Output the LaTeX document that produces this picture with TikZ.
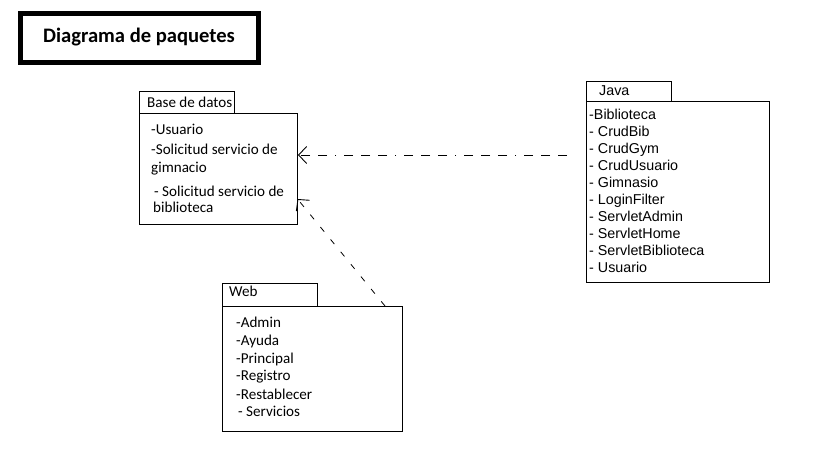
\documentclass[tikz,border=0pt]{standalone}
\usepackage{fontspec}
\newfontfamily\calfnt{Carlito}
\newfontfamily\arifnt{Liberation Sans}
\usetikzlibrary{arrows.meta,calc}
\begin{document}
\begin{tikzpicture}[x=1bp,y=-1bp,
  box/.style={draw,line width=1bp,inner sep=0pt,anchor=north west},
  calt/.style={inner sep=0pt,anchor=base west,font=\calfnt\fontsize{15.1bp}{17bp}\selectfont},
  arit/.style={inner sep=0pt,anchor=base west,font=\arifnt\fontsize{14.3bp}{17bp}\selectfont},
  dep/.style={line width=0.8bp,-{Straight Barb[length=8bp,width=17bp,line width=0.9bp]}},
  ]
\useasboundingbox (0,0) rectangle (832,454);
% title
\node[box,line width=5bp,minimum width=238bp,minimum height=49bp] (title) at (17.5,11.5) {};
\node[inner sep=0pt,anchor=base west,font=\calfnt\bfseries\fontsize{20.6bp}{24bp}\selectfont] (titletext) at (43,43) {Diagrama de paquetes};
% Base de datos
\node[box,minimum width=95bp,minimum height=22bp] (basetab) at (139,91) {};
\node[box,minimum width=158bp,minimum height=111bp] (base) at (139,113) {};
\node[calt] (basel) at (147,108) {Base de datos};
\node[calt] (b1) at (151,135) {-Usuario};
\node[calt] (b2) at (151,155) {-Solicitud servicio de};
\node[calt] (b3) at (151,173) {gimnacio};
\node[calt] (b4) at (154,197) {- Solicitud servicio de};
\node[calt] (b5) at (153,213) {biblioteca};
% Java
\node[box,minimum width=85bp,minimum height=20bp] (javatab) at (586,81) {};
\node[box,minimum width=183bp,minimum height=181bp] (java) at (586,101) {};
\node[arit] (javal) at (599,96) {Java};
\node[arit] (j1) at (589,120) {-Biblioteca};
\node[arit] (j2) at (589,137) {- CrudBib};
\node[arit] (j3) at (589,154) {- CrudGym};
\node[arit] (j4) at (589,171) {- CrudUsuario};
\node[arit] (j5) at (589,188) {- Gimnasio};
\node[arit] (j6) at (589,205) {- LoginFilter};
\node[arit] (j7) at (589,222) {- ServletAdmin};
\node[arit] (j8) at (589,239) {- ServletHome};
\node[arit] (j9) at (589,256) {- ServletBiblioteca};
\node[arit] (j10) at (589,273) {- Usuario};
% Web
\node[box,minimum width=95bp,minimum height=23bp] (webtab) at (222,283) {};
\node[box,minimum width=180bp,minimum height=125bp] (web) at (222,306) {};
\node[calt] (webl) at (229,297) {Web};
\node[calt] (w1) at (236,328) {-Admin};
\node[calt] (w2) at (236,346) {-Ayuda};
\node[calt] (w3) at (236,364) {-Principal};
\node[calt] (w4) at (236,381) {-Registro};
\node[calt] (w5) at (236,399) {-Restablecer};
\node[calt] (w6) at (238,416) {- Servicios};
% connectors
\coordinate (jstart) at (567,155);
\coordinate (wstart) at (385,306);
\coordinate (wend) at (297.5,199);
\draw[dep,dash pattern=on 9bp off 8bp on 9bp off 8bp on 9bp off 8bp on 1bp off 8bp] (jstart) -- (jstart -| base.east);
\draw[dep,dash pattern=on 6bp off 10bp] (wstart) -- (wend);
\end{tikzpicture}
\end{document}
